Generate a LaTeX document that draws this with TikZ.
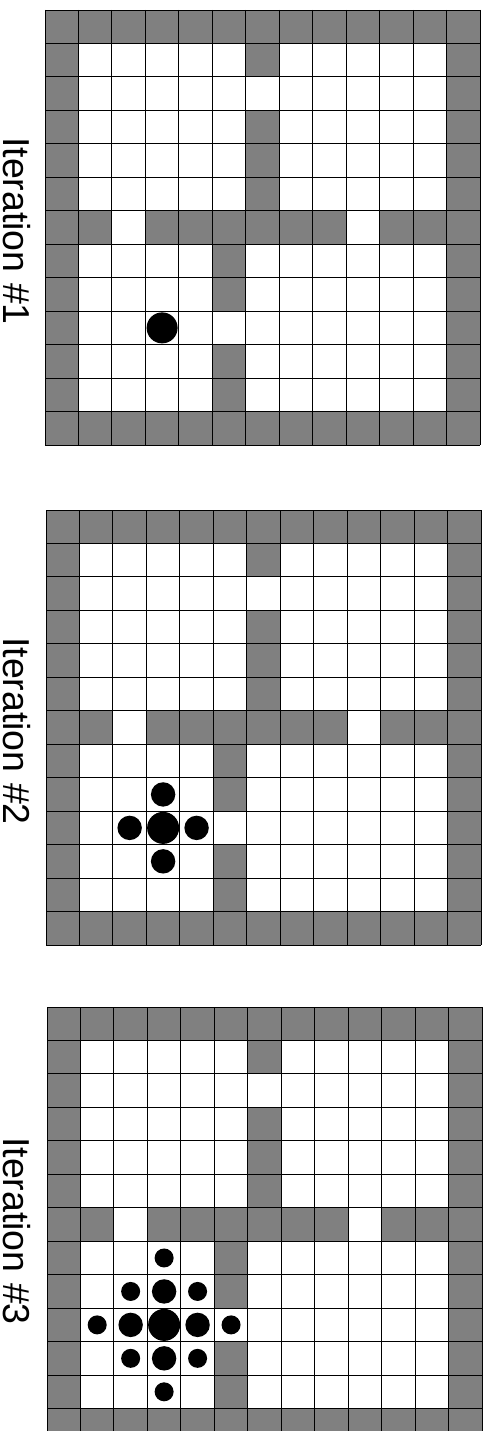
\documentclass[tikz,border=0pt]{standalone}
\usepackage{fontspec}
\setmainfont{Liberation Sans}
\definecolor{wallgray}{HTML}{808080}
\tikzset{
  wall/.style={fill=wallgray},
  gridline/.style={draw=black, line width=0.9pt},
  itlabel/.style={rotate=-90, anchor=base, inner sep=0pt, font=\fontsize{37.5}{40}\selectfont},
  blob/.style={fill=black}
}
\newcommand{\drawmazegrid}[2]{%
  \begin{scope}[shift={(#1,#2)}, x=33.4615pt, y=-33.4615pt]
    \fill[white] (0,0) rectangle (13,13);
    \foreach \c in {0,...,12} {
      \fill[wall] (\c,0) rectangle ++(1,1);
      \fill[wall] (\c,12) rectangle ++(1,1);
    }
    \foreach \r in {1,...,11} {
      \fill[wall] (0,\r) rectangle ++(1,1);
      \fill[wall] (12,\r) rectangle ++(1,1);
    }
    \foreach \c/\r in {6/1,6/3,6/4,6/5,1/6,3/6,4/6,5/6,6/6,7/6,8/6,10/6,11/6,5/7,5/8,5/10,5/11}
      \fill[wall] (\c,\r) rectangle ++(1,1);
    \foreach \i in {0,...,13} {
      \draw[gridline] (\i,0) -- (\i,13);
      \draw[gridline] (0,\i) -- (13,\i);
    }
  \end{scope}}
\begin{document}
\begin{tikzpicture}[x=1pt, y=-1pt]
  \clip (0,0) rectangle (488,1431);
  \fill[white] (0,0) rectangle (488,1431);
  % Iteration 1
  \drawmazegrid{45}{10}
  \node[itlabel] (t1) at (4,231) {Iteration \#1};
  \begin{scope}[shift={(45,10)}, x=33.4615pt, y=-33.4615pt]
    \fill[blob] (3.5,9.5) circle[radius=15.5pt];
  \end{scope}
  % Iteration 2
  \drawmazegrid{46}{510}
  \node[itlabel] (t2) at (4,731) {Iteration \#2};
  \begin{scope}[shift={(46,510)}, x=33.4615pt, y=-33.4615pt]
    \fill[blob] (3.5,9.5) circle[radius=16pt];
    \foreach \c/\r in {3.5/8.5,3.5/10.5,2.5/9.5,4.5/9.5}
      \fill[blob] (\c,\r) circle[radius=12.2pt];
  \end{scope}
  % Iteration 3
  \drawmazegrid{47}{1007}
  \node[itlabel] (t3) at (4,1231) {Iteration \#3};
  \begin{scope}[shift={(47,1007)}, x=33.4615pt, y=-33.4615pt]
    \fill[blob] (3.5,9.5) circle[radius=16pt];
    \foreach \c/\r in {3.5/8.5,3.5/10.5,2.5/9.5,4.5/9.5}
      \fill[blob] (\c,\r) circle[radius=12.2pt];
    \foreach \c/\r in {2.5/8.5,4.5/8.5,2.5/10.5,4.5/10.5,3.5/7.5,3.5/11.5,1.5/9.5,5.5/9.5}
      \fill[blob] (\c,\r) circle[radius=9.5pt];
  \end{scope}
\end{tikzpicture}
\end{document}
